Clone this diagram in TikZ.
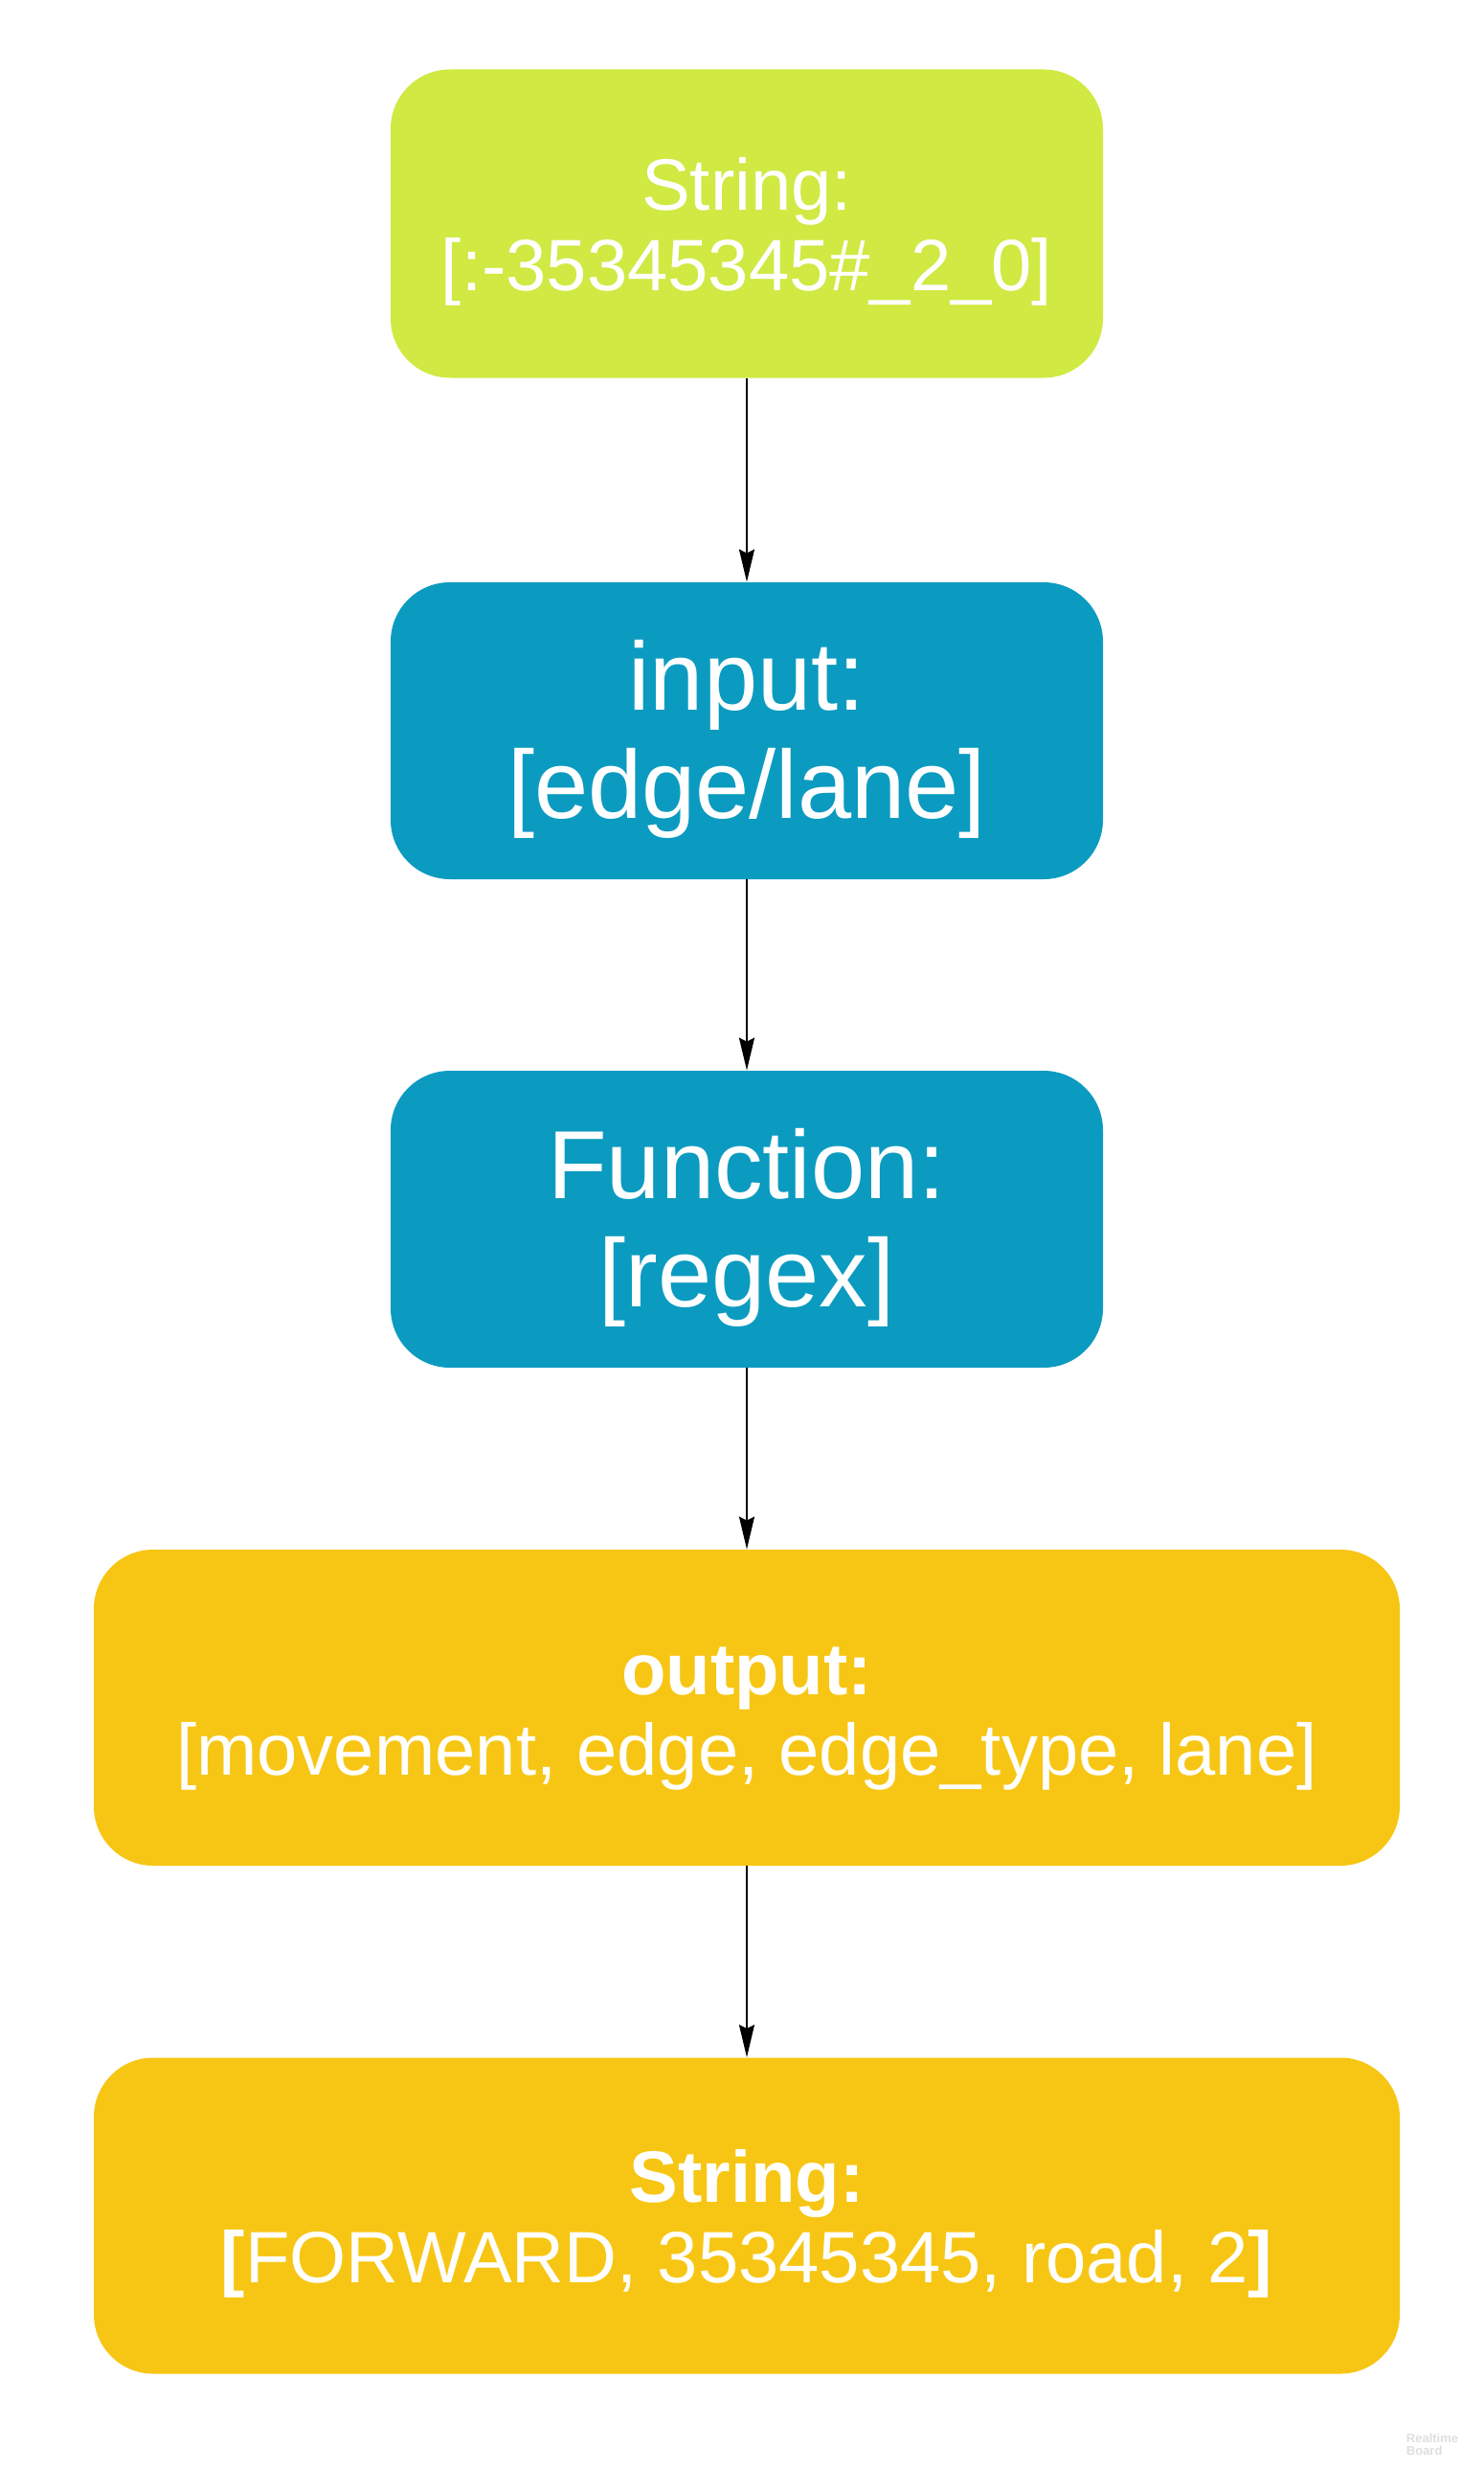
\documentclass[tikz,border=0pt]{standalone}
\usepackage{fontspec}
\setmainfont{Liberation Sans}
\usepackage{tikz}
\usetikzlibrary{
	arrows.meta,
	positioning,
	calc
}
\usepackage{xcolor}
\definecolor{limebox}{HTML}{D0E943}
\definecolor{tealbox}{HTML}{0C9BC0}
\definecolor{ambox}{HTML}{F7C614}

% extra room above the first line, so the text sits a little lower
\newcommand{\lowsmall}{\rule{0pt}{36pt}}
\newcommand{\lowbig}{\rule{0pt}{45pt}}

\tikzset{
	block/.style={rounded corners=31pt,text=white,align=center,inner sep=0pt},
	smalltext/.style={font=\fontsize{38}{42}\selectfont},
	bigtext/.style={font=\fontsize{50.5}{56.5}\selectfont},
	flow/.style={-{Stealth[length=17pt,width=8pt,inset=2pt]},line width=1pt}
}

\begin{document}
\begin{tikzpicture}[x=1pt,y=1pt]
		
		\useasboundingbox (0,0) rectangle (775,-1289.5);
		
		% Boxes
		\node[block,smalltext,fill=limebox,minimum width=372pt,minimum height=161pt]
		(str) at (390,-116.75) {\lowsmall String:\\{[}:-35345345\#\_2\_0]};
		
		\node[block,bigtext,fill=tealbox,minimum width=372pt,minimum height=155pt]
		(inp) at (390,-381.5) {\lowbig input:\\{[}edge/lane]};
		
		\node[block,bigtext,fill=tealbox,minimum width=372pt,minimum height=155pt]
		(fun) at (390,-636.5) {\lowbig Function:\\{[}regex]};
		
		\node[block,smalltext,fill=ambox,minimum width=682pt,minimum height=165pt]
		(out) at (390,-891.5) {\lowsmall\textbf{output:}\\{[}movement, edge, edge\_type, lane]};
		
		\node[block,smalltext,fill=ambox,minimum width=682pt,minimum height=165pt]
		(res) at (390,-1156.75) {\lowsmall\textbf{String:}\\{\bfseries[}FORWARD, 35345345, road, 2{\bfseries]}};
		
		% Arrows
		\draw[flow] (str) -- (inp);
		\draw[flow] (inp) -- (fun);
		\draw[flow] (fun) -- (out);
		\draw[flow] (out) -- (res);
		
		\node[font=\bfseries\fontsize{6.5}{6.5}\selectfont,text=black!13,align=left,inner sep=0pt]
		(mark) at (748,-1276) {Realtime\\Board};
		
	\end{tikzpicture}
\end{document}
